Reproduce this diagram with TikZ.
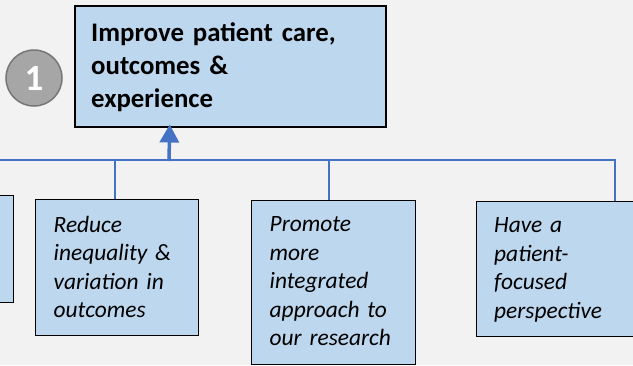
\documentclass[tikz,border=0pt]{standalone}
\usepackage{fontspec}
\setmainfont{Carlito}
\usetikzlibrary{calc,arrows.meta}
\definecolor{bg}{HTML}{F2F2F2}
\definecolor{boxfill}{HTML}{BDD7EE}
\definecolor{conn}{HTML}{4472C4}
\definecolor{circfill}{HTML}{A6A6A6}
\definecolor{circline}{HTML}{767676}
\begin{document}
\begin{tikzpicture}[x=1pt,y=-1pt,
  goalbox/.style={draw=black, line width=1.3pt, fill=boxfill, rectangle, anchor=north west, inner sep=0pt},
  goaltext/.style={anchor=base west, inner sep=0pt, align=left, text width=#1,
    font=\itshape\fontsize{23.4}{28.5}\selectfont},
  toptext/.style={anchor=base west, inner sep=0pt, align=left, text width=290pt,
    font=\bfseries\fontsize{26.8}{32.7}\selectfont},
  thinconn/.style={draw=conn, line width=1.3pt},
  thickconn/.style={draw=conn, line width=2.4pt}
]
\fill[bg] (0,0) rectangle (633,365);
\useasboundingbox (0,0) rectangle (633,365);
\clip (0,0) rectangle (633,365);

% boxes
\node[goalbox, line width=1.5pt, minimum width=311pt, minimum height=121pt] (top) at (74,5) {};
\node[toptext] (toptxt) at ($(top.north west)+(17,36.7)$) {Improve patient care,\\ outcomes \&\\ experience};

\node[goalbox, minimum width=163pt, minimum height=107pt] (leftbox) at (-150,195) {};

\node[goalbox, minimum width=163pt, minimum height=136pt] (reduce) at (35,199) {};
\node[goaltext=150pt] (reducetxt) at ($(reduce.north west)+(18.5,33)$) {Reduce\\ inequality \&\\ variation in\\ outcomes};

\node[goalbox, minimum width=164pt, minimum height=164pt] (promote) at (251,200) {};
\node[goaltext=150pt] (promotetxt) at ($(promote.north west)+(18.5,31.7)$) {Promote\\ more\\ integrated\\ approach to\\ our research};

\node[goalbox, minimum width=260pt, minimum height=135pt] (have) at (476,201) {};
\node[goaltext=150pt] (havetxt) at ($(have.north west)+(18,31.7)$) {Have a\\ patient-\\ focused\\ perspective};

% number badge
\node[circle, minimum size=56pt, inner sep=0pt, fill=circfill, draw=circline, line width=1.5pt,
  text=white, font=\bfseries\fontsize{37}{37}\selectfont] (num) at (34,78) {1};

% connectors
\coordinate (junc) at (169,160);
\coordinate (leftend) at (-5,160);
\draw[thinconn] (junc) -- (leftend);
\draw[thinconn] (junc) -| ($(reduce.north west)+(80,0)$);
\draw[thinconn] (junc) -| ($(promote.north west)+(78,0)$);
\draw[thinconn] (junc) -| ($(have.north west)+(139,0)$);
\draw[thickconn] (junc) -- ($(junc)+(160,0)$);
\draw[draw=conn, line width=3.5pt, -{Triangle[width=19pt,length=18pt]}]
  ($(junc)+(0,1)$) -- ($(top.south)+(169-229.5,-3)$);
\end{tikzpicture}
\end{document}
